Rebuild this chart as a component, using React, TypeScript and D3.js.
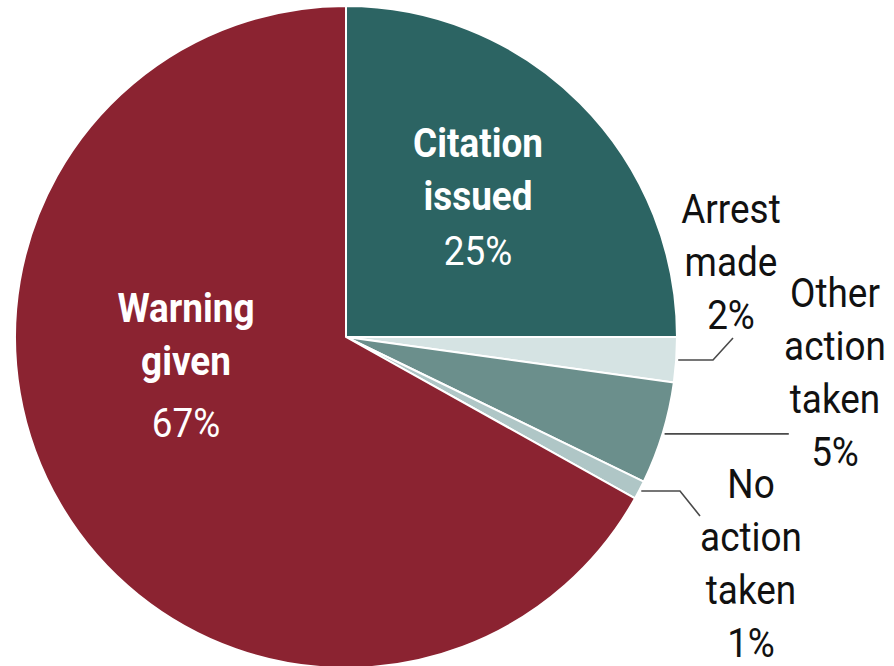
import * as d3 from "d3";
import React from "react";

const categories = ["Citation issued", "Arrest made", "Other action taken", "No action taken", "Warning given"];
const values = [25, 2.2, 5, 0.9, 66.9];
const colors = ["#2c6463", "#d5e3e3", "#6b8f8c", "#afc6c6", "#8b2331"];

// label lines per category (the percentage is added below them)
const labelLines = [
  ["Citation", "issued"],
  ["Arrest", "made"],
  ["Other", "action", "taken"],
  ["No", "action", "taken"],
  ["Warning", "given"],
];
const inside = [true, false, false, false, true];

const W = 894;
const H = 666;
const cx = 346;
const cy = 337;
const R = 331;

// label anchor (x centre, first baseline), gap before the percentage, leader elbows
const labelPos: [number, number][] = [
  [478, 157],
  [731, 223],
  [835, 307],
  [751, 498],
  [186, 322],
];
const pctGaps = [55, 53, 53, 53, 62];
const leaders: ({ elbowX: number; end: [number, number] } | null)[] = [
  null,
  { elbowX: 713, end: [733, 338] },
  { elbowX: 788, end: [788, 433] },
  { elbowX: 680, end: [700, 516] },
  null,
];

const FONT = "Roboto, 'Noto Sans', sans-serif";

const App = () => {
  const pie = d3
    .pie<number>()
    .sort(null)
    .value((d) => d);
  const arcs = pie(values);
  const arc = d3.arc<d3.PieArcDatum<number>>().innerRadius(0).outerRadius(R);

  const lineGap = 53;

  return (
    <svg
      width={W}
      height={H}
      style={{ position: "absolute", left: 0, top: 0, background: "#fff" }}
    >
      <g transform={`translate(${cx},${cy})`}>
        {arcs.map((a, i) => (
          <path key={i} d={arc(a) || ""} fill={colors[i]} stroke="#fff" strokeWidth={2} />
        ))}
      </g>
      {arcs.map((a, i) => {
        const ld = leaders[i];
        if (!ld) return null;
        const mid = (a.startAngle + a.endAngle) / 2;
        const sx = cx + Math.sin(mid) * (R + 2);
        const sy = cy - Math.cos(mid) * (R + 2);
        const pts: [number, number][] = [
          [sx, sy],
          [ld.elbowX, sy],
          ld.end,
        ];
        return (
          <path
            key={"l" + i}
            d={d3.line()(pts) || ""}
            fill="none"
            stroke="#4a4a4a"
            strokeWidth={1.6}
          />
        );
      })}
      {categories.map((c, i) => {
        const [x, y] = labelPos[i];
        const lines = labelLines[i];
        const pct = Math.round(values[i]) + "%";
        const fill = inside[i] ? "#fff" : "#111";
        return (
          <g key={"t" + i} fontFamily={FONT} fontSize={41} fill={fill} textAnchor="middle">
            {lines.map((ln, j) => (
              <text
                key={j}
                transform={`translate(${x},${y + j * lineGap}) scale(0.9,1)`}
                fontWeight={inside[i] ? 700 : 400}
              >
                {ln}
              </text>
            ))}
            <text
              transform={`translate(${x},${y + (lines.length - 1) * lineGap + pctGaps[i]}) scale(0.9,1)`}
              fontWeight={400}
            >
              {pct}
            </text>
          </g>
        );
      })}
    </svg>
  );
};

export default App;
